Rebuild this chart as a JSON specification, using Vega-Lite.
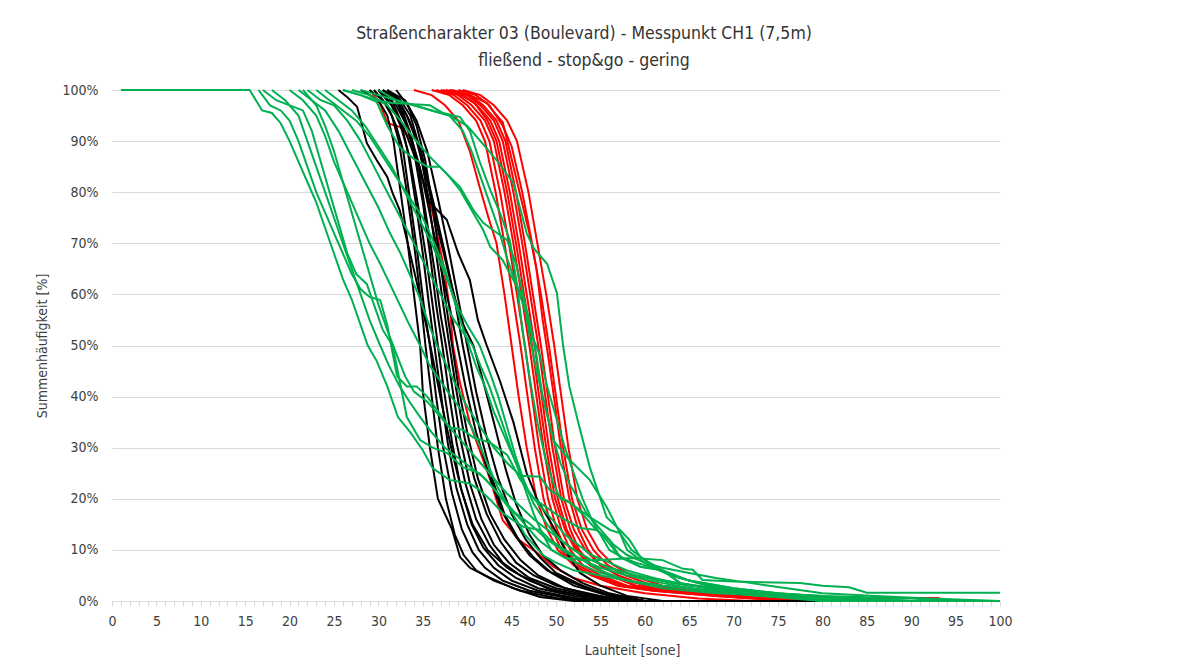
{
"$schema":"https://vega.github.io/schema/vega-lite/v6.json",
"width":888,"height":511,
"autosize":{"type":"none"},
"padding":{"left":112,"top":90,"right":186,"bottom":66},
"background":"#ffffff",
"config":{"view":{"stroke":null},"font":"Liberation Sans Narrow, DejaVu Sans Condensed, Roboto, sans-serif"},
"title":{"text":["Straßencharakter 03 (Boulevard) - Messpunkt CH1 (7,5m)","fließend - stop&go - gering"],"fontSize":17.5,"fontWeight":"normal","color":"#333333","anchor":"middle","offset":14,"lineHeight":27,"dx":28},
"datasets":{
"red":[
{"s":0,"x":29,"y":100},{"s":0,"x":30.2,"y":97.3},{"s":0,"x":31,"y":93.5},{"s":0,"x":32.4,"y":92.8},{"s":0,"x":33.6,"y":90.5},{"s":0,"x":34.3,"y":87},{"s":0,"x":35,"y":82.4},{"s":0,"x":36.1,"y":76},{"s":0,"x":37.3,"y":66},{"s":0,"x":38.1,"y":56.4},{"s":0,"x":38.4,"y":50},{"s":0,"x":39.2,"y":42.6},{"s":0,"x":40.3,"y":34.8},{"s":0,"x":41.4,"y":29.5},{"s":0,"x":42.6,"y":23.7},{"s":0,"x":44,"y":15.8},{"s":0,"x":45.9,"y":11.9},{"s":0,"x":47.9,"y":9.4},{"s":0,"x":49.7,"y":6.7},{"s":0,"x":52,"y":4.5},{"s":0,"x":55,"y":3},{"s":0,"x":60,"y":1.5},{"s":0,"x":66,"y":0.5},{"s":0,"x":72,"y":0},{"s":0,"x":100,"y":0},
{"s":1,"x":34,"y":100},{"s":1,"x":36,"y":99},{"s":1,"x":37.5,"y":97},{"s":1,"x":39,"y":94},{"s":1,"x":40.3,"y":88},{"s":1,"x":41.4,"y":81},{"s":1,"x":42.4,"y":75},{"s":1,"x":43.3,"y":70},{"s":1,"x":44.2,"y":60},{"s":1,"x":45,"y":50},{"s":1,"x":45.8,"y":40},{"s":1,"x":46.7,"y":30},{"s":1,"x":47.8,"y":20},{"s":1,"x":49,"y":14},{"s":1,"x":50.2,"y":10},{"s":1,"x":52,"y":7},{"s":1,"x":54,"y":5},{"s":1,"x":57,"y":3},{"s":1,"x":61,"y":2},{"s":1,"x":68,"y":1},{"s":1,"x":76,"y":0},{"s":1,"x":100,"y":0},
{"s":2,"x":36,"y":100},{"s":2,"x":38,"y":99},{"s":2,"x":39.5,"y":97},{"s":2,"x":41,"y":94},{"s":2,"x":42,"y":90},{"s":2,"x":43.2,"y":80},{"s":2,"x":44.2,"y":70},{"s":2,"x":45.1,"y":60},{"s":2,"x":46,"y":50},{"s":2,"x":46.8,"y":40},{"s":2,"x":47.6,"y":30},{"s":2,"x":48.6,"y":20},{"s":2,"x":49.6,"y":14},{"s":2,"x":50.6,"y":10},{"s":2,"x":52,"y":7},{"s":2,"x":54,"y":5},{"s":2,"x":57,"y":3},{"s":2,"x":61,"y":2},{"s":2,"x":68,"y":1},{"s":2,"x":76,"y":0},{"s":2,"x":100,"y":0},
{"s":3,"x":36.5,"y":100},{"s":3,"x":38.5,"y":99},{"s":3,"x":40,"y":97},{"s":3,"x":41.5,"y":94},{"s":3,"x":42.5,"y":90},{"s":3,"x":43.7,"y":80},{"s":3,"x":44.7,"y":70},{"s":3,"x":45.6,"y":60},{"s":3,"x":46.5,"y":50},{"s":3,"x":47.3,"y":40},{"s":3,"x":48.1,"y":30},{"s":3,"x":49.1,"y":20},{"s":3,"x":50.1,"y":14},{"s":3,"x":51.1,"y":10},{"s":3,"x":52.5,"y":7},{"s":3,"x":54.5,"y":5},{"s":3,"x":57.5,"y":3},{"s":3,"x":62,"y":2},{"s":3,"x":69,"y":1},{"s":3,"x":77,"y":0},{"s":3,"x":100,"y":0},
{"s":4,"x":37,"y":100},{"s":4,"x":39,"y":99},{"s":4,"x":40.5,"y":97},{"s":4,"x":42,"y":94},{"s":4,"x":43,"y":90},{"s":4,"x":44.2,"y":80},{"s":4,"x":45.2,"y":70},{"s":4,"x":46.1,"y":60},{"s":4,"x":47,"y":50},{"s":4,"x":47.8,"y":40},{"s":4,"x":48.6,"y":30},{"s":4,"x":49.6,"y":20},{"s":4,"x":50.6,"y":14},{"s":4,"x":51.6,"y":10},{"s":4,"x":53,"y":7},{"s":4,"x":55,"y":5},{"s":4,"x":58,"y":3},{"s":4,"x":62,"y":2},{"s":4,"x":70,"y":1.2},{"s":4,"x":78,"y":0},{"s":4,"x":100,"y":0},
{"s":5,"x":37.3,"y":100},{"s":5,"x":39.3,"y":99},{"s":5,"x":40.8,"y":97.5},{"s":5,"x":42.3,"y":94},{"s":5,"x":43.3,"y":90},{"s":5,"x":44.5,"y":80},{"s":5,"x":45.5,"y":70},{"s":5,"x":46.4,"y":60},{"s":5,"x":47.3,"y":50},{"s":5,"x":48.1,"y":40},{"s":5,"x":48.9,"y":30},{"s":5,"x":49.9,"y":20},{"s":5,"x":51,"y":14},{"s":5,"x":52.2,"y":10},{"s":5,"x":53.8,"y":7},{"s":5,"x":56,"y":5},{"s":5,"x":59,"y":3},{"s":5,"x":63,"y":2},{"s":5,"x":70,"y":1},{"s":5,"x":80,"y":0},{"s":5,"x":100,"y":0},
{"s":6,"x":37.6,"y":100},{"s":6,"x":39.6,"y":99},{"s":6,"x":41.1,"y":97},{"s":6,"x":42.6,"y":94},{"s":6,"x":43.6,"y":90},{"s":6,"x":44.8,"y":80},{"s":6,"x":45.8,"y":70},{"s":6,"x":46.7,"y":60},{"s":6,"x":47.6,"y":50},{"s":6,"x":48.4,"y":40},{"s":6,"x":49.2,"y":30},{"s":6,"x":50.2,"y":20},{"s":6,"x":51.2,"y":14},{"s":6,"x":52.4,"y":10},{"s":6,"x":54,"y":7},{"s":6,"x":56,"y":5},{"s":6,"x":59,"y":3.5},{"s":6,"x":63,"y":2.5},{"s":6,"x":70,"y":1.5},{"s":6,"x":75,"y":1},{"s":6,"x":82,"y":0.6},{"s":6,"x":93,"y":0.6},{"s":6,"x":94,"y":0},{"s":6,"x":100,"y":0},
{"s":7,"x":38,"y":100},{"s":7,"x":40,"y":99},{"s":7,"x":41.5,"y":97},{"s":7,"x":43,"y":94},{"s":7,"x":44,"y":90},{"s":7,"x":45.2,"y":80},{"s":7,"x":46.2,"y":70},{"s":7,"x":47.1,"y":60},{"s":7,"x":48,"y":50},{"s":7,"x":48.8,"y":40},{"s":7,"x":49.6,"y":30},{"s":7,"x":50.6,"y":20},{"s":7,"x":51.6,"y":14},{"s":7,"x":52.6,"y":10},{"s":7,"x":54,"y":7},{"s":7,"x":56,"y":5},{"s":7,"x":59,"y":3},{"s":7,"x":63,"y":2},{"s":7,"x":70,"y":1},{"s":7,"x":78,"y":0},{"s":7,"x":100,"y":0},
{"s":8,"x":38.3,"y":100},{"s":8,"x":40.3,"y":99},{"s":8,"x":41.8,"y":97},{"s":8,"x":43.3,"y":94},{"s":8,"x":44.3,"y":90},{"s":8,"x":45.5,"y":80},{"s":8,"x":46.5,"y":70},{"s":8,"x":47.4,"y":60},{"s":8,"x":48.3,"y":50},{"s":8,"x":49.1,"y":40},{"s":8,"x":49.9,"y":30},{"s":8,"x":50.9,"y":20},{"s":8,"x":52,"y":14},{"s":8,"x":53.3,"y":10},{"s":8,"x":55,"y":7},{"s":8,"x":57,"y":5},{"s":8,"x":60,"y":3},{"s":8,"x":64,"y":2},{"s":8,"x":71,"y":1},{"s":8,"x":79,"y":0},{"s":8,"x":100,"y":0},
{"s":9,"x":38,"y":100},{"s":9,"x":40.3,"y":99},{"s":9,"x":42.2,"y":97.5},{"s":9,"x":43,"y":95.7},{"s":9,"x":44,"y":93.7},{"s":9,"x":44.8,"y":88},{"s":9,"x":46.3,"y":77},{"s":9,"x":47,"y":72},{"s":9,"x":47.8,"y":65},{"s":9,"x":48.5,"y":55},{"s":9,"x":49.2,"y":47},{"s":9,"x":50,"y":37},{"s":9,"x":50.7,"y":28},{"s":9,"x":51.5,"y":20},{"s":9,"x":52.5,"y":14},{"s":9,"x":53.6,"y":10},{"s":9,"x":55,"y":7},{"s":9,"x":57,"y":5},{"s":9,"x":60,"y":3},{"s":9,"x":64,"y":2},{"s":9,"x":71,"y":1},{"s":9,"x":79,"y":0},{"s":9,"x":100,"y":0},
{"s":10,"x":39,"y":100},{"s":10,"x":41,"y":99},{"s":10,"x":42.5,"y":97},{"s":10,"x":44,"y":93},{"s":10,"x":45,"y":89},{"s":10,"x":46.2,"y":80},{"s":10,"x":47.3,"y":70},{"s":10,"x":48.3,"y":60},{"s":10,"x":49.2,"y":50},{"s":10,"x":50,"y":40},{"s":10,"x":50.8,"y":30},{"s":10,"x":51.8,"y":20},{"s":10,"x":52.9,"y":14},{"s":10,"x":54.2,"y":10},{"s":10,"x":55.8,"y":7},{"s":10,"x":57.8,"y":5},{"s":10,"x":61,"y":3},{"s":10,"x":65,"y":2},{"s":10,"x":72,"y":1},{"s":10,"x":80,"y":0},{"s":10,"x":100,"y":0},
{"s":11,"x":39.5,"y":100},{"s":11,"x":41.5,"y":99},{"s":11,"x":43,"y":97},{"s":11,"x":44.5,"y":94},{"s":11,"x":45.6,"y":90},{"s":11,"x":46.9,"y":80},{"s":11,"x":47.9,"y":70},{"s":11,"x":48.9,"y":60},{"s":11,"x":49.8,"y":50},{"s":11,"x":50.6,"y":40},{"s":11,"x":51.4,"y":30},{"s":11,"x":52.4,"y":20},{"s":11,"x":53.5,"y":14},{"s":11,"x":54.8,"y":10},{"s":11,"x":56.5,"y":7},{"s":11,"x":58.5,"y":5},{"s":11,"x":62,"y":3},{"s":11,"x":66,"y":2},{"s":11,"x":73,"y":1},{"s":11,"x":80,"y":0},{"s":11,"x":100,"y":0}
],
"black":[
{"s":1,"x":28,"y":100},{"s":1,"x":30,"y":98},{"s":1,"x":31,"y":95},{"s":1,"x":31.7,"y":90},{"s":1,"x":32.5,"y":80},{"s":1,"x":33.3,"y":70},{"s":1,"x":34,"y":60},{"s":1,"x":34.7,"y":50},{"s":1,"x":35,"y":41},{"s":1,"x":35.8,"y":30},{"s":1,"x":36.7,"y":20},{"s":1,"x":38.3,"y":14},{"s":1,"x":39.2,"y":8.6},{"s":1,"x":40.3,"y":6.5},{"s":1,"x":42.6,"y":4.5},{"s":1,"x":45.2,"y":2.5},{"s":1,"x":48.2,"y":0.8},{"s":1,"x":52,"y":0},{"s":1,"x":100,"y":0},
{"s":2,"x":29,"y":100},{"s":2,"x":30.5,"y":98},{"s":2,"x":31.5,"y":95},{"s":2,"x":32.3,"y":90},{"s":2,"x":33.2,"y":80},{"s":2,"x":34,"y":70},{"s":2,"x":34.7,"y":60},{"s":2,"x":35.3,"y":50},{"s":2,"x":36,"y":40},{"s":2,"x":36.7,"y":30},{"s":2,"x":37.6,"y":20},{"s":2,"x":38.6,"y":13},{"s":2,"x":39.6,"y":9},{"s":2,"x":41,"y":6},{"s":2,"x":43,"y":4},{"s":2,"x":46,"y":2},{"s":2,"x":50,"y":0.6},{"s":2,"x":54,"y":0},{"s":2,"x":100,"y":0},
{"s":3,"x":29.5,"y":100},{"s":3,"x":31,"y":97},{"s":3,"x":32,"y":93},{"s":3,"x":32.8,"y":88},{"s":3,"x":33.6,"y":78},{"s":3,"x":34.4,"y":68},{"s":3,"x":35.1,"y":58},{"s":3,"x":35.8,"y":50},{"s":3,"x":36.5,"y":40},{"s":3,"x":37.3,"y":30},{"s":3,"x":38.3,"y":21},{"s":3,"x":39.4,"y":14},{"s":3,"x":40.6,"y":9.5},{"s":3,"x":42,"y":6.5},{"s":3,"x":44,"y":4},{"s":3,"x":47,"y":2},{"s":3,"x":51,"y":0.7},{"s":3,"x":55,"y":0},{"s":3,"x":100,"y":0},
{"s":4,"x":30,"y":100},{"s":4,"x":31.5,"y":98},{"s":4,"x":32.5,"y":94},{"s":4,"x":33.3,"y":88},{"s":4,"x":34.2,"y":78},{"s":4,"x":35,"y":68},{"s":4,"x":35.7,"y":58},{"s":4,"x":36.3,"y":50},{"s":4,"x":37,"y":41},{"s":4,"x":37.8,"y":31},{"s":4,"x":38.8,"y":22},{"s":4,"x":40,"y":15},{"s":4,"x":41.3,"y":10},{"s":4,"x":43,"y":6.5},{"s":4,"x":45,"y":4},{"s":4,"x":48,"y":2},{"s":4,"x":52,"y":0.6},{"s":4,"x":56,"y":0},{"s":4,"x":100,"y":0},
{"s":5,"x":30,"y":100},{"s":5,"x":31.5,"y":97},{"s":5,"x":32.5,"y":93},{"s":5,"x":33.5,"y":87},{"s":5,"x":34.5,"y":77},{"s":5,"x":35.4,"y":67},{"s":5,"x":36.1,"y":58},{"s":5,"x":36.7,"y":50},{"s":5,"x":37.4,"y":41},{"s":5,"x":38.3,"y":31},{"s":5,"x":39.3,"y":22},{"s":5,"x":40.5,"y":15},{"s":5,"x":41.8,"y":10.5},{"s":5,"x":43.5,"y":7},{"s":5,"x":45.5,"y":4.5},{"s":5,"x":48,"y":2.5},{"s":5,"x":52,"y":1},{"s":5,"x":57,"y":0},{"s":5,"x":100,"y":0},
{"s":6,"x":30.5,"y":100},{"s":6,"x":32,"y":98},{"s":6,"x":33,"y":94},{"s":6,"x":34,"y":88},{"s":6,"x":35,"y":78},{"s":6,"x":35.8,"y":68},{"s":6,"x":36.5,"y":58},{"s":6,"x":37.2,"y":50},{"s":6,"x":38,"y":40},{"s":6,"x":38.8,"y":31},{"s":6,"x":39.8,"y":23},{"s":6,"x":41,"y":16},{"s":6,"x":42.5,"y":11},{"s":6,"x":44,"y":7.5},{"s":6,"x":46,"y":5},{"s":6,"x":49,"y":2.5},{"s":6,"x":53,"y":1},{"s":6,"x":57,"y":0},{"s":6,"x":100,"y":0},
{"s":7,"x":31,"y":100},{"s":7,"x":32.5,"y":97},{"s":7,"x":33.5,"y":92},{"s":7,"x":34.5,"y":85},{"s":7,"x":35.4,"y":75},{"s":7,"x":36.3,"y":65},{"s":7,"x":37,"y":56},{"s":7,"x":37.6,"y":50},{"s":7,"x":38.3,"y":42},{"s":7,"x":39.2,"y":32},{"s":7,"x":40.3,"y":23},{"s":7,"x":41.6,"y":16},{"s":7,"x":43,"y":11},{"s":7,"x":44.7,"y":7.5},{"s":7,"x":47,"y":4.5},{"s":7,"x":50,"y":2.5},{"s":7,"x":54,"y":1},{"s":7,"x":58,"y":0},{"s":7,"x":100,"y":0},
{"s":8,"x":31,"y":100},{"s":8,"x":32.5,"y":98},{"s":8,"x":33.6,"y":95},{"s":8,"x":34.6,"y":89},{"s":8,"x":35.6,"y":79},{"s":8,"x":36.5,"y":68},{"s":8,"x":37.3,"y":58},{"s":8,"x":38,"y":50},{"s":8,"x":38.8,"y":41},{"s":8,"x":39.7,"y":32},{"s":8,"x":40.8,"y":24},{"s":8,"x":42.2,"y":17},{"s":8,"x":43.8,"y":11.5},{"s":8,"x":45.5,"y":7.5},{"s":8,"x":47.5,"y":5},{"s":8,"x":50,"y":3},{"s":8,"x":54,"y":1.2},{"s":8,"x":58,"y":0},{"s":8,"x":100,"y":0},
{"s":9,"x":32,"y":100},{"s":9,"x":33.3,"y":97},{"s":9,"x":34.3,"y":93},{"s":9,"x":35.3,"y":86},{"s":9,"x":36.2,"y":76},{"s":9,"x":37,"y":66},{"s":9,"x":37.7,"y":57},{"s":9,"x":38.3,"y":50},{"s":9,"x":39,"y":42},{"s":9,"x":40,"y":33},{"s":9,"x":41.2,"y":24},{"s":9,"x":42.6,"y":17},{"s":9,"x":44.2,"y":12},{"s":9,"x":46,"y":8},{"s":9,"x":48,"y":5},{"s":9,"x":51,"y":2.5},{"s":9,"x":55,"y":1},{"s":9,"x":59,"y":0},{"s":9,"x":100,"y":0},
{"s":10,"x":25.5,"y":100},{"s":10,"x":26.5,"y":98.6},{"s":10,"x":27.6,"y":96.7},{"s":10,"x":28.7,"y":89.6},{"s":10,"x":29.8,"y":86.3},{"s":10,"x":31,"y":83},{"s":10,"x":31.6,"y":79.8},{"s":10,"x":32.4,"y":76.5},{"s":10,"x":33.3,"y":70},{"s":10,"x":34.5,"y":61},{"s":10,"x":35.5,"y":53},{"s":10,"x":36.3,"y":46},{"s":10,"x":37.2,"y":38},{"s":10,"x":38.2,"y":30},{"s":10,"x":39.3,"y":22},{"s":10,"x":40.6,"y":15},{"s":10,"x":42.3,"y":10},{"s":10,"x":44.5,"y":6.5},{"s":10,"x":47,"y":4},{"s":10,"x":50,"y":2},{"s":10,"x":54,"y":0.8},{"s":10,"x":58,"y":0},{"s":10,"x":100,"y":0},
{"s":11,"x":30,"y":100},{"s":11,"x":32,"y":97},{"s":11,"x":33.5,"y":92},{"s":11,"x":34.8,"y":84},{"s":11,"x":36,"y":74},{"s":11,"x":37.2,"y":64},{"s":11,"x":38.2,"y":56},{"s":11,"x":38.9,"y":50},{"s":11,"x":39.8,"y":42},{"s":11,"x":41,"y":33},{"s":11,"x":42.4,"y":25},{"s":11,"x":43.8,"y":18},{"s":11,"x":45.3,"y":13},{"s":11,"x":47,"y":9},{"s":11,"x":49,"y":6},{"s":11,"x":52,"y":3.5},{"s":11,"x":55,"y":1.5},{"s":11,"x":60,"y":0},{"s":11,"x":100,"y":0},
{"s":12,"x":30.5,"y":100},{"s":12,"x":32.3,"y":98},{"s":12,"x":33.5,"y":94},{"s":12,"x":34.8,"y":88},{"s":12,"x":36.2,"y":78},{"s":12,"x":37.5,"y":68},{"s":12,"x":38.6,"y":59},{"s":12,"x":39.5,"y":50},{"s":12,"x":40.5,"y":41},{"s":12,"x":41.6,"y":32},{"s":12,"x":42.8,"y":24},{"s":12,"x":44.2,"y":17},{"s":12,"x":45.8,"y":12},{"s":12,"x":47.5,"y":8.5},{"s":12,"x":49.5,"y":5.5},{"s":12,"x":52,"y":3},{"s":12,"x":56,"y":1},{"s":12,"x":60,"y":0},{"s":12,"x":100,"y":0},
{"s":13,"x":31,"y":100},{"s":13,"x":33,"y":98},{"s":13,"x":34.3,"y":94},{"s":13,"x":35.5,"y":88},{"s":13,"x":36.8,"y":78},{"s":13,"x":38,"y":68},{"s":13,"x":39,"y":59},{"s":13,"x":40,"y":50},{"s":13,"x":41,"y":41},{"s":13,"x":42.2,"y":32},{"s":13,"x":43.5,"y":24},{"s":13,"x":45,"y":17},{"s":13,"x":46.6,"y":12},{"s":13,"x":48.2,"y":8.5},{"s":13,"x":50,"y":5.5},{"s":13,"x":53,"y":3},{"s":13,"x":56,"y":1.2},{"s":13,"x":60,"y":0},{"s":13,"x":100,"y":0},
{"s":14,"x":30,"y":100},{"s":14,"x":31.5,"y":97},{"s":14,"x":33,"y":92},{"s":14,"x":34.3,"y":86},{"s":14,"x":35.8,"y":78},{"s":14,"x":37.7,"y":74.6},{"s":14,"x":39,"y":68},{"s":14,"x":40.3,"y":62.8},{"s":14,"x":41.2,"y":55},{"s":14,"x":42.2,"y":50},{"s":14,"x":43.7,"y":43},{"s":14,"x":45.2,"y":35},{"s":14,"x":46.7,"y":25},{"s":14,"x":47.9,"y":19.8},{"s":14,"x":49.7,"y":14.5},{"s":14,"x":51.2,"y":9.4},{"s":14,"x":52.7,"y":5.5},{"s":14,"x":55,"y":3},{"s":14,"x":58,"y":1},{"s":14,"x":62,"y":0},{"s":14,"x":100,"y":0},
{"s":15,"x":30.5,"y":100},{"s":15,"x":32,"y":98},{"s":15,"x":33.2,"y":95},{"s":15,"x":34.3,"y":90},{"s":15,"x":35.5,"y":82},{"s":15,"x":36.8,"y":72},{"s":15,"x":38.2,"y":62},{"s":15,"x":39.3,"y":55},{"s":15,"x":40.7,"y":50},{"s":15,"x":41.8,"y":43},{"s":15,"x":43,"y":35},{"s":15,"x":44.3,"y":26},{"s":15,"x":45.5,"y":19},{"s":15,"x":47,"y":13},{"s":15,"x":48.5,"y":9},{"s":15,"x":50.5,"y":6},{"s":15,"x":53,"y":3.5},{"s":15,"x":56,"y":1.5},{"s":15,"x":60,"y":0},{"s":15,"x":100,"y":0}
],
"green":[
{"s":1,"x":1,"y":100},{"s":1,"x":15.5,"y":100},{"s":1,"x":16.9,"y":96},{"s":1,"x":18,"y":95.5},{"s":1,"x":19,"y":93.5},{"s":1,"x":20,"y":90},{"s":1,"x":21,"y":86},{"s":1,"x":22,"y":82},{"s":1,"x":23,"y":78},{"s":1,"x":24,"y":73},{"s":1,"x":25,"y":68},{"s":1,"x":26,"y":63},{"s":1,"x":27,"y":59},{"s":1,"x":28,"y":54},{"s":1,"x":28.8,"y":50},{"s":1,"x":29.8,"y":47},{"s":1,"x":31,"y":42},{"s":1,"x":32.2,"y":36},{"s":1,"x":33.6,"y":33},{"s":1,"x":35,"y":29.5},{"s":1,"x":36.1,"y":26},{"s":1,"x":38,"y":23.7},{"s":1,"x":40.3,"y":23},{"s":1,"x":41.4,"y":21.7},{"s":1,"x":42.6,"y":19.8},{"s":1,"x":44,"y":17.2},{"s":1,"x":46.3,"y":14.5},{"s":1,"x":48.2,"y":13.9},{"s":1,"x":49.3,"y":12},{"s":1,"x":51,"y":10},{"s":1,"x":53,"y":8},{"s":1,"x":55,"y":6},{"s":1,"x":58,"y":4},{"s":1,"x":62,"y":2.5},{"s":1,"x":68,"y":1.5},{"s":1,"x":75,"y":1},{"s":1,"x":80,"y":0},{"s":1,"x":100,"y":0},
{"s":2,"x":16.5,"y":100},{"s":2,"x":17.8,"y":97},{"s":2,"x":19,"y":96},{"s":2,"x":20,"y":94},{"s":2,"x":21,"y":90},{"s":2,"x":22,"y":85},{"s":2,"x":23,"y":80},{"s":2,"x":24,"y":76},{"s":2,"x":25,"y":72},{"s":2,"x":26,"y":68},{"s":2,"x":27,"y":64},{"s":2,"x":28,"y":61},{"s":2,"x":29,"y":59.5},{"s":2,"x":30.2,"y":58.9},{"s":2,"x":31,"y":54},{"s":2,"x":32.1,"y":44},{"s":2,"x":33.2,"y":42},{"s":2,"x":34.3,"y":42},{"s":2,"x":35.5,"y":40},{"s":2,"x":36.6,"y":37.4},{"s":2,"x":38,"y":34},{"s":2,"x":39.5,"y":33.5},{"s":2,"x":40.7,"y":32},{"s":2,"x":42.6,"y":31},{"s":2,"x":44.5,"y":28.6},{"s":2,"x":46,"y":23.7},{"s":2,"x":47.9,"y":19.2},{"s":2,"x":49.8,"y":15.5},{"s":2,"x":51,"y":13},{"s":2,"x":52.5,"y":11},{"s":2,"x":54,"y":9},{"s":2,"x":56,"y":7.5},{"s":2,"x":58,"y":6},{"s":2,"x":61,"y":4.5},{"s":2,"x":65,"y":3},{"s":2,"x":70,"y":2},{"s":2,"x":78,"y":1},{"s":2,"x":85,"y":0},{"s":2,"x":100,"y":0},
{"s":3,"x":17,"y":100},{"s":3,"x":18.5,"y":98},{"s":3,"x":20,"y":97},{"s":3,"x":21.5,"y":96},{"s":3,"x":22.5,"y":92},{"s":3,"x":23.5,"y":86},{"s":3,"x":24.5,"y":80},{"s":3,"x":25.5,"y":74},{"s":3,"x":26.5,"y":68},{"s":3,"x":27.5,"y":64},{"s":3,"x":28.7,"y":62},{"s":3,"x":29.5,"y":58},{"s":3,"x":30.5,"y":53},{"s":3,"x":31.6,"y":50},{"s":3,"x":32.4,"y":43},{"s":3,"x":33.2,"y":36},{"s":3,"x":34.7,"y":31.5},{"s":3,"x":36.1,"y":30},{"s":3,"x":37.7,"y":29},{"s":3,"x":39.5,"y":26.2},{"s":3,"x":41.4,"y":25},{"s":3,"x":43,"y":22},{"s":3,"x":44.8,"y":18},{"s":3,"x":47,"y":15.2},{"s":3,"x":49,"y":12},{"s":3,"x":51.2,"y":9.4},{"s":3,"x":53,"y":8},{"s":3,"x":55,"y":6.5},{"s":3,"x":58,"y":5},{"s":3,"x":62,"y":3.5},{"s":3,"x":67,"y":2},{"s":3,"x":73,"y":1},{"s":3,"x":80,"y":0.5},{"s":3,"x":85,"y":0},{"s":3,"x":100,"y":0},
{"s":4,"x":22,"y":100},{"s":4,"x":23.5,"y":98},{"s":4,"x":25,"y":97},{"s":4,"x":26.5,"y":94},{"s":4,"x":28,"y":90},{"s":4,"x":29.5,"y":85},{"s":4,"x":31,"y":80},{"s":4,"x":32.5,"y":75},{"s":4,"x":34,"y":70},{"s":4,"x":35.5,"y":65},{"s":4,"x":37,"y":60},{"s":4,"x":38.5,"y":55},{"s":4,"x":40.6,"y":50},{"s":4,"x":41.5,"y":46},{"s":4,"x":42.5,"y":42},{"s":4,"x":43.5,"y":37},{"s":4,"x":44.5,"y":32},{"s":4,"x":45.5,"y":27},{"s":4,"x":46.5,"y":22},{"s":4,"x":47.5,"y":17},{"s":4,"x":48.5,"y":13},{"s":4,"x":49.5,"y":10},{"s":4,"x":51,"y":8.5},{"s":4,"x":53,"y":8},{"s":4,"x":55,"y":8},{"s":4,"x":58.7,"y":8.4},{"s":4,"x":62,"y":8},{"s":4,"x":64.3,"y":6.3},{"s":4,"x":65.4,"y":6.1},{"s":4,"x":66.5,"y":4.1},{"s":4,"x":70,"y":3.8},{"s":4,"x":77.5,"y":3.5},{"s":4,"x":80,"y":3},{"s":4,"x":83,"y":2.7},{"s":4,"x":85,"y":1.6},{"s":4,"x":100,"y":1.6},
{"s":5,"x":26,"y":100},{"s":5,"x":28,"y":99},{"s":5,"x":29.8,"y":98},{"s":5,"x":31.3,"y":97.5},{"s":5,"x":35.8,"y":97},{"s":5,"x":37.3,"y":95.5},{"s":5,"x":39.2,"y":94.7},{"s":5,"x":40.3,"y":92},{"s":5,"x":41.4,"y":86},{"s":5,"x":42.6,"y":80.4},{"s":5,"x":43.7,"y":75.9},{"s":5,"x":44.8,"y":70.6},{"s":5,"x":45.6,"y":62},{"s":5,"x":46.3,"y":52},{"s":5,"x":47,"y":44},{"s":5,"x":47.9,"y":35},{"s":5,"x":48.8,"y":28},{"s":5,"x":49.7,"y":23},{"s":5,"x":50.5,"y":20},{"s":5,"x":51.6,"y":19.2},{"s":5,"x":53,"y":17},{"s":5,"x":54.5,"y":14},{"s":5,"x":56,"y":12},{"s":5,"x":57.2,"y":8.6},{"s":5,"x":59.5,"y":6.7},{"s":5,"x":62,"y":6},{"s":5,"x":64,"y":3.5},{"s":5,"x":67,"y":2.5},{"s":5,"x":72,"y":1.5},{"s":5,"x":78,"y":1},{"s":5,"x":85,"y":0.5},{"s":5,"x":90,"y":0},{"s":5,"x":100,"y":0},
{"s":6,"x":28,"y":100},{"s":6,"x":30,"y":99},{"s":6,"x":32,"y":98},{"s":6,"x":34,"y":97},{"s":6,"x":36,"y":96},{"s":6,"x":38,"y":95},{"s":6,"x":40,"y":93},{"s":6,"x":41.5,"y":90},{"s":6,"x":43.3,"y":86.3},{"s":6,"x":45.2,"y":81.8},{"s":6,"x":46.7,"y":72},{"s":6,"x":47.5,"y":69},{"s":6,"x":49,"y":66},{"s":6,"x":50.1,"y":60.3},{"s":6,"x":50.8,"y":50},{"s":6,"x":51.5,"y":42},{"s":6,"x":52.5,"y":35},{"s":6,"x":53.8,"y":26.2},{"s":6,"x":55.7,"y":16.4},{"s":6,"x":57.2,"y":13.9},{"s":6,"x":58.3,"y":11.9},{"s":6,"x":59.5,"y":8.6},{"s":6,"x":60.6,"y":7.4},{"s":6,"x":62,"y":6},{"s":6,"x":65,"y":4},{"s":6,"x":70,"y":2.5},{"s":6,"x":75,"y":1.5},{"s":6,"x":80,"y":1},{"s":6,"x":90,"y":0.5},{"s":6,"x":95,"y":0},{"s":6,"x":100,"y":0},
{"s":7,"x":27,"y":100},{"s":7,"x":29,"y":99},{"s":7,"x":31,"y":97},{"s":7,"x":32.5,"y":94},{"s":7,"x":33.9,"y":90.8},{"s":7,"x":35.8,"y":86.9},{"s":7,"x":36.9,"y":85},{"s":7,"x":38,"y":83},{"s":7,"x":39.2,"y":80.4},{"s":7,"x":40.7,"y":75.9},{"s":7,"x":41.8,"y":72.6},{"s":7,"x":42.6,"y":69.3},{"s":7,"x":44,"y":66.7},{"s":7,"x":45.2,"y":62.8},{"s":7,"x":46.3,"y":59.5},{"s":7,"x":47,"y":55},{"s":7,"x":47.8,"y":48},{"s":7,"x":48.5,"y":40},{"s":7,"x":49.7,"y":31.5},{"s":7,"x":51.2,"y":28.2},{"s":7,"x":53.8,"y":23.7},{"s":7,"x":55.7,"y":18.4},{"s":7,"x":57.2,"y":13.3},{"s":7,"x":58,"y":10},{"s":7,"x":59.5,"y":8},{"s":7,"x":61,"y":6.5},{"s":7,"x":63,"y":5},{"s":7,"x":66,"y":3.5},{"s":7,"x":70,"y":2},{"s":7,"x":76,"y":1},{"s":7,"x":82,"y":0.5},{"s":7,"x":88,"y":0},{"s":7,"x":100,"y":0},
{"s":8,"x":21,"y":100},{"s":8,"x":22.5,"y":98},{"s":8,"x":24,"y":96},{"s":8,"x":25.5,"y":92},{"s":8,"x":27,"y":87},{"s":8,"x":28.5,"y":82},{"s":8,"x":30,"y":77},{"s":8,"x":31.3,"y":72},{"s":8,"x":32.5,"y":68},{"s":8,"x":33.5,"y":64},{"s":8,"x":34.5,"y":60},{"s":8,"x":35.5,"y":55},{"s":8,"x":36.6,"y":50},{"s":8,"x":37.7,"y":46},{"s":8,"x":38.8,"y":42},{"s":8,"x":40,"y":38},{"s":8,"x":41.5,"y":34},{"s":8,"x":43,"y":30},{"s":8,"x":44.5,"y":27},{"s":8,"x":46,"y":24.5},{"s":8,"x":48.2,"y":24.3},{"s":8,"x":49.3,"y":21.7},{"s":8,"x":51.6,"y":19.2},{"s":8,"x":53.8,"y":16.4},{"s":8,"x":56.1,"y":13.9},{"s":8,"x":57.2,"y":13.3},{"s":8,"x":58.5,"y":10},{"s":8,"x":60,"y":8},{"s":8,"x":62,"y":6},{"s":8,"x":65,"y":4},{"s":8,"x":70,"y":2.5},{"s":8,"x":75,"y":1.5},{"s":8,"x":82,"y":0.5},{"s":8,"x":88,"y":0},{"s":8,"x":100,"y":0},
{"s":9,"x":23,"y":100},{"s":9,"x":24.5,"y":98},{"s":9,"x":26,"y":96},{"s":9,"x":27.5,"y":94},{"s":9,"x":29,"y":91},{"s":9,"x":30.5,"y":87},{"s":9,"x":32,"y":83},{"s":9,"x":33.5,"y":79},{"s":9,"x":35,"y":75},{"s":9,"x":36.3,"y":70},{"s":9,"x":37.5,"y":65},{"s":9,"x":38.5,"y":59},{"s":9,"x":39.4,"y":54},{"s":9,"x":40.2,"y":50},{"s":9,"x":41,"y":46},{"s":9,"x":42,"y":42},{"s":9,"x":43,"y":37},{"s":9,"x":44,"y":33},{"s":9,"x":45,"y":29},{"s":9,"x":46,"y":25},{"s":9,"x":47,"y":21},{"s":9,"x":48.2,"y":19.2},{"s":9,"x":50.5,"y":16.4},{"s":9,"x":52.7,"y":14.3},{"s":9,"x":54.6,"y":13.9},{"s":9,"x":55.7,"y":11.9},{"s":9,"x":57.2,"y":8.6},{"s":9,"x":59.5,"y":6.7},{"s":9,"x":62,"y":6},{"s":9,"x":64,"y":3.5},{"s":9,"x":67,"y":2.5},{"s":9,"x":72,"y":1.5},{"s":9,"x":78,"y":1},{"s":9,"x":84,"y":0.5},{"s":9,"x":88,"y":0},{"s":9,"x":100,"y":0},
{"s":10,"x":20,"y":100},{"s":10,"x":21.5,"y":98},{"s":10,"x":23,"y":95},{"s":10,"x":24,"y":91},{"s":10,"x":25,"y":86},{"s":10,"x":26,"y":82},{"s":10,"x":27,"y":78},{"s":10,"x":28,"y":74},{"s":10,"x":29,"y":70},{"s":10,"x":30.2,"y":66},{"s":10,"x":31.3,"y":62},{"s":10,"x":32.4,"y":58},{"s":10,"x":33.5,"y":54},{"s":10,"x":34.7,"y":50},{"s":10,"x":35.8,"y":46},{"s":10,"x":37,"y":43},{"s":10,"x":38.2,"y":40},{"s":10,"x":39.5,"y":37},{"s":10,"x":40.5,"y":34},{"s":10,"x":41.5,"y":30},{"s":10,"x":42.5,"y":26},{"s":10,"x":43.5,"y":22},{"s":10,"x":44.5,"y":19},{"s":10,"x":45.5,"y":16},{"s":10,"x":46.5,"y":13},{"s":10,"x":47.5,"y":11},{"s":10,"x":48.5,"y":9},{"s":10,"x":50,"y":7.5},{"s":10,"x":52,"y":6},{"s":10,"x":55,"y":5},{"s":10,"x":58,"y":4},{"s":10,"x":62,"y":3},{"s":10,"x":68,"y":2},{"s":10,"x":75,"y":1},{"s":10,"x":82,"y":0},{"s":10,"x":100,"y":0},
{"s":11,"x":26,"y":100},{"s":11,"x":28,"y":99},{"s":11,"x":29.8,"y":97.7},{"s":11,"x":31,"y":93},{"s":11,"x":32.4,"y":88.8},{"s":11,"x":34,"y":86.5},{"s":11,"x":35.5,"y":85},{"s":11,"x":36.9,"y":85},{"s":11,"x":39.2,"y":81},{"s":11,"x":40.7,"y":76.5},{"s":11,"x":41.8,"y":74},{"s":11,"x":42.9,"y":72.6},{"s":11,"x":44.5,"y":70.6},{"s":11,"x":45.5,"y":66},{"s":11,"x":46.3,"y":60},{"s":11,"x":47,"y":52},{"s":11,"x":47.7,"y":46},{"s":11,"x":48.5,"y":40},{"s":11,"x":49.5,"y":33},{"s":11,"x":50.5,"y":27},{"s":11,"x":51.5,"y":23},{"s":11,"x":52.5,"y":20},{"s":11,"x":53.5,"y":17},{"s":11,"x":55,"y":14},{"s":11,"x":56.5,"y":11},{"s":11,"x":58,"y":9},{"s":11,"x":60,"y":7.5},{"s":11,"x":62,"y":6.5},{"s":11,"x":65,"y":5.5},{"s":11,"x":68,"y":4.5},{"s":11,"x":72,"y":3.5},{"s":11,"x":76,"y":2.5},{"s":11,"x":80,"y":1.5},{"s":11,"x":86,"y":1},{"s":11,"x":92,"y":0.5},{"s":11,"x":100,"y":0},
{"s":12,"x":18,"y":100},{"s":12,"x":19.5,"y":98},{"s":12,"x":21,"y":95},{"s":12,"x":22,"y":90},{"s":12,"x":23,"y":85},{"s":12,"x":24,"y":80},{"s":12,"x":25,"y":75},{"s":12,"x":26,"y":70},{"s":12,"x":27,"y":65},{"s":12,"x":28,"y":60},{"s":12,"x":29,"y":55},{"s":12,"x":30.2,"y":50},{"s":12,"x":31.2,"y":46},{"s":12,"x":32.4,"y":42},{"s":12,"x":33.5,"y":39},{"s":12,"x":34.7,"y":36},{"s":12,"x":36,"y":33},{"s":12,"x":37.5,"y":30},{"s":12,"x":39,"y":28},{"s":12,"x":40.5,"y":26},{"s":12,"x":42,"y":24},{"s":12,"x":43.5,"y":21},{"s":12,"x":45,"y":18},{"s":12,"x":46.5,"y":15},{"s":12,"x":48,"y":12},{"s":12,"x":49.5,"y":10},{"s":12,"x":51,"y":8.5},{"s":12,"x":53,"y":7},{"s":12,"x":55,"y":5.5},{"s":12,"x":58,"y":4},{"s":12,"x":62,"y":3},{"s":12,"x":67,"y":2},{"s":12,"x":73,"y":1},{"s":12,"x":80,"y":0},{"s":12,"x":100,"y":0},
{"s":13,"x":21.5,"y":100},{"s":13,"x":23,"y":97},{"s":13,"x":24,"y":93},{"s":13,"x":25,"y":88},{"s":13,"x":26,"y":82},{"s":13,"x":27,"y":76},{"s":13,"x":28,"y":70},{"s":13,"x":29,"y":64},{"s":13,"x":30,"y":58},{"s":13,"x":31,"y":53},{"s":13,"x":32.1,"y":48},{"s":13,"x":33,"y":44},{"s":13,"x":34,"y":41},{"s":13,"x":35.5,"y":39},{"s":13,"x":37,"y":36},{"s":13,"x":38.5,"y":33},{"s":13,"x":40,"y":30},{"s":13,"x":41.5,"y":27},{"s":13,"x":43,"y":24},{"s":13,"x":44.5,"y":21},{"s":13,"x":46,"y":18.5},{"s":13,"x":47.5,"y":16},{"s":13,"x":49,"y":14},{"s":13,"x":50.5,"y":12},{"s":13,"x":52,"y":10},{"s":13,"x":54,"y":8},{"s":13,"x":56,"y":6.5},{"s":13,"x":59,"y":5},{"s":13,"x":63,"y":3.5},{"s":13,"x":68,"y":2.5},{"s":13,"x":74,"y":1.5},{"s":13,"x":80,"y":1},{"s":13,"x":86,"y":0},{"s":13,"x":100,"y":0},
{"s":14,"x":30,"y":100},{"s":14,"x":32,"y":98},{"s":14,"x":34,"y":97},{"s":14,"x":36,"y":96},{"s":14,"x":38,"y":95},{"s":14,"x":39.5,"y":92},{"s":14,"x":40.5,"y":88},{"s":14,"x":41.5,"y":83},{"s":14,"x":42.5,"y":78},{"s":14,"x":43.5,"y":73},{"s":14,"x":44.5,"y":67},{"s":14,"x":45.5,"y":62},{"s":14,"x":46.5,"y":57},{"s":14,"x":47.3,"y":52},{"s":14,"x":48.2,"y":48},{"s":14,"x":49,"y":42},{"s":14,"x":50,"y":36},{"s":14,"x":51,"y":30},{"s":14,"x":52,"y":25},{"s":14,"x":53,"y":20},{"s":14,"x":54,"y":16},{"s":14,"x":55,"y":13},{"s":14,"x":56,"y":10},{"s":14,"x":57.5,"y":8.5},{"s":14,"x":59,"y":7.5},{"s":14,"x":61,"y":6.5},{"s":14,"x":63,"y":5},{"s":14,"x":66,"y":3.5},{"s":14,"x":70,"y":2},{"s":14,"x":76,"y":1},{"s":14,"x":82,"y":0},{"s":14,"x":100,"y":0},
{"s":15,"x":24,"y":100},{"s":15,"x":25.5,"y":98},{"s":15,"x":27,"y":96},{"s":15,"x":28.5,"y":93},{"s":15,"x":30,"y":89},{"s":15,"x":31.5,"y":85},{"s":15,"x":33,"y":80},{"s":15,"x":34.5,"y":75},{"s":15,"x":36,"y":70},{"s":15,"x":37.5,"y":64},{"s":15,"x":38.8,"y":58},{"s":15,"x":40,"y":54},{"s":15,"x":41.4,"y":50},{"s":15,"x":42.5,"y":45},{"s":15,"x":43.5,"y":40},{"s":15,"x":44.5,"y":34},{"s":15,"x":45.5,"y":28},{"s":15,"x":46.5,"y":23},{"s":15,"x":47.5,"y":19},{"s":15,"x":49,"y":15},{"s":15,"x":50.5,"y":12},{"s":15,"x":52,"y":10},{"s":15,"x":54,"y":8},{"s":15,"x":56,"y":6.5},{"s":15,"x":59,"y":5},{"s":15,"x":62,"y":4},{"s":15,"x":66,"y":3},{"s":15,"x":71,"y":2},{"s":15,"x":78,"y":1},{"s":15,"x":85,"y":0.5},{"s":15,"x":90,"y":0},{"s":15,"x":100,"y":0}
]
},
"encoding":{
"x":{"field":"x","type":"quantitative","scale":{"domain":[0,100],"nice":false},
 "axis":{"title":"Lauhteit [sone]","tickCount":100,"labelExpr":"datum.value % 5 === 0 ? datum.label : ''","labelOverlap":false,"labelFlush":false,"grid":false,"domainColor":"#d9d9d9","domainWidth":1,"tickColor":"#d9d9d9","tickSize":5,"labelPadding":8,"labelFontSize":14,"labelColor":"#404040","titleFontSize":14,"titleColor":"#404040","titleFontWeight":"normal","titlePadding":15,"titleX":520}},
"y":{"field":"y","type":"quantitative","scale":{"domain":[0,100],"nice":false},
 "axis":{"title":"Summenhäufigkeit [%]","values":[0,10,20,30,40,50,60,70,80,90,100],"labelExpr":"datum.value + '%'","grid":true,"gridColor":"#d9d9d9","domain":false,"ticks":false,"labelPadding":14,"labelFontSize":14,"labelColor":"#404040","titleFontSize":14,"titleColor":"#404040","titleFontWeight":"normal","titlePadding":12}},
"detail":{"field":"s","type":"nominal"}
},
"layer":[
{"data":{"name":"red"},"mark":{"type":"line","color":"#ff0000","strokeWidth":2}},
{"data":{"name":"black"},"mark":{"type":"line","color":"#000000","strokeWidth":2}},
{"data":{"name":"green"},"mark":{"type":"line","color":"#00b050","strokeWidth":2}}
]
}
